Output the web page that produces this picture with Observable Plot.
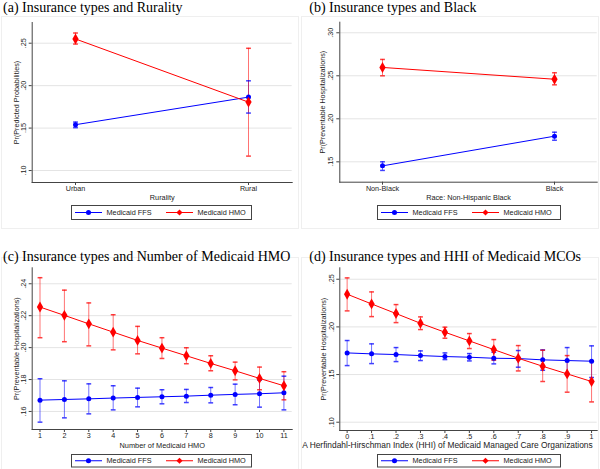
<!DOCTYPE html>
<html>
<head>
<meta charset="utf-8">
<script src="https://cdn.jsdelivr.net/npm/d3@7"></script>
<script src="https://cdn.jsdelivr.net/npm/@observablehq/plot@0.6"></script>
<style>
  html, body { margin: 0; padding: 0; background: #fff; }
  #page { position: relative; width: 600px; height: 469px; overflow: hidden; background: #fff; }
  .title { position: absolute; font-family: "Liberation Serif", "Times New Roman", serif; font-size: 14px; line-height: 16px; white-space: nowrap; color: #000; z-index: 2; }
  .region { position: absolute; border: 1px solid #efefef; box-sizing: border-box; }
  .plotbox { position: absolute; z-index: 1; }
  .legend { position: absolute; z-index: 2; }
</style>
</head>
<body>
<div id="page"></div>
<script>
// ---------- Series ----------
const seriesNames = ["Medicaid FFS", "Medicaid HMO"];
const seriesColors = ["#0000ff", "#ff0000"];
const seriesSymbols = ["circle", "diamond"];

// ---------- (a) Rurality ----------
const ruralityTitle = "(a) Insurance types and Rurality";
const ruralityCats = ["Urban", "Rural"];
const ruralityFFS = [0.154, 0.1865];
const ruralityFFSLo = [0.1505, 0.1677];
const ruralityFFSHi = [0.1571, 0.2057];
const ruralityHMO = [0.255, 0.1806];
const ruralityHMOLo = [0.249, 0.117];
const ruralityHMOHi = [0.262, 0.244];
const ruralityYTicks = [0.10, 0.15, 0.20, 0.25];
const ruralityYTickLabels = [".10", ".15", ".20", ".25"];
const ruralityXLabel = "Rurality";
const ruralityYLabel = "Pr(Predicted Probabilities)";

// ---------- (b) Black ----------
const raceTitle = "(b) Insurance types and Black";
const raceCats = ["Non-Black", "Black"];
const raceFFS = [0.1453, 0.1798];
const raceFFSLo = [0.140, 0.1751];
const raceFFSHi = [0.150, 0.1844];
const raceHMO = [0.2597, 0.246];
const raceHMOLo = [0.250, 0.2395];
const raceHMOHi = [0.269, 0.2535];
const raceYTicks = [0.15, 0.20, 0.25, 0.30];
const raceYTickLabels = [".15", ".20", ".25", ".30"];
const raceXLabel = "Race: Non-Hispanic Black";
const raceYLabel = "Pr(Preventable Hospitalizations)";

// ---------- (c) Number of Medicaid HMO ----------
const numTitle = "(c) Insurance types and Number of Medicaid HMO";
const numHMO = [1, 2, 3, 4, 5, 6, 7, 8, 9, 10, 11];
const numXTickLabels = ["1", "2", "3", "4", "5", "6", "7", "8", "9", "10", "11"];
const numFFS = [0.1671, 0.1675, 0.1679, 0.1684, 0.1688, 0.1692, 0.1696, 0.1702, 0.1707, 0.1711, 0.1717];
const numFFSHi = [0.1805, 0.1792, 0.1773, 0.1761, 0.1746, 0.1736, 0.1738, 0.1750, 0.1771, 0.1796, 0.1821];
const numFFSLo = [0.1533, 0.1560, 0.1585, 0.1610, 0.1629, 0.1648, 0.1656, 0.1654, 0.1642, 0.1627, 0.1610];
const numHMOv = [0.2254, 0.2202, 0.2149, 0.2097, 0.2045, 0.1997, 0.1949, 0.1901, 0.1855, 0.1807, 0.1761];
const numHMOHi = [0.2438, 0.2360, 0.2280, 0.2206, 0.2133, 0.2062, 0.1999, 0.1949, 0.1909, 0.1878, 0.1849];
const numHMOLo = [0.2062, 0.2037, 0.2011, 0.1986, 0.1961, 0.1932, 0.1899, 0.1855, 0.1798, 0.1736, 0.1673];
const numYTicks = [0.16, 0.18, 0.20, 0.22, 0.24];
const numYTickLabels = [".16", ".18", ".20", ".22", ".24"];
const numXLabel = "Number of Medicaid HMO";
const numYLabel = "Pr(Preventable Hospitalizations)";

// ---------- (d) HHI ----------
const hhiTitle = "(d) Insurance types and HHI of Medicaid MCOs";
const hhiVals = [0, 0.1, 0.2, 0.3, 0.4, 0.5, 0.6, 0.7, 0.8, 0.9, 1];
const hhiXTickLabels = ["0", ".1", ".2", ".3", ".4", ".5", ".6", ".7", ".8", ".9", "1"];
const hhiFFS = [0.1727, 0.1717, 0.1710, 0.1699, 0.1689, 0.1682, 0.1671, 0.1668, 0.1654, 0.1647, 0.1640];
const hhiFFSHi = [0.1857, 0.1822, 0.1783, 0.1748, 0.1727, 0.1720, 0.1734, 0.1752, 0.1759, 0.1783, 0.1801];
const hhiFFSLo = [0.1594, 0.1615, 0.1636, 0.1647, 0.1657, 0.1643, 0.1612, 0.1577, 0.1545, 0.1510, 0.1469];
const hhiHMO = [0.2343, 0.2241, 0.2140, 0.2038, 0.1944, 0.1853, 0.1762, 0.1671, 0.1587, 0.1507, 0.1427];
const hhiHMOHi = [0.2514, 0.2367, 0.2234, 0.2105, 0.1997, 0.1930, 0.1867, 0.1804, 0.1755, 0.1699, 0.1645];
const hhiHMOLo = [0.2168, 0.2108, 0.2045, 0.1972, 0.1881, 0.1773, 0.1650, 0.1538, 0.1427, 0.1315, 0.1213];
const hhiYTicks = [0.10, 0.15, 0.20, 0.25];
const hhiYTickLabels = [".10", ".15", ".20", ".25"];
const hhiXLabel = "A Herfindahl-Hirschman Index (HHI) of Medicaid Managed Care Organizations";
const hhiYLabel = "Pr(Preventable Hospitalizations)";

// ---------- Panel configs (built from the arrays above) ----------
const panels = [
  {
    title: ruralityTitle, x: ruralityCats, ffs: ruralityFFS, ffsLo: ruralityFFSLo, ffsHi: ruralityFFSHi,
    hmo: ruralityHMO, hmoLo: ruralityHMOLo, hmoHi: ruralityHMOHi,
    xTicks: ruralityCats, xTickLabels: ruralityCats, yTicks: ruralityYTicks, yTickLabels: ruralityYTickLabels,
    xLabel: ruralityXLabel, yLabel: ruralityYLabel,
    xScale: {type: "point", domain: ruralityCats, padding: 0.25},
    yDomain: [0.0859, 0.2744],
    L: {left: 0, top: 14, h: 192, mt: 8, mb: 24, ml: 31.7, mr: 8.3, typad: 3.6, ytdx: -16,
        xtAnchor: "bottom", xtdx: 0, xtdy: 15, xtText: "middle", xtFs: 7.3,
        titleLeft: 3, titleTop: 0,
        legend: {left: 70.7, top: 205, w: 181, h: 15},
        region: {left: 1, top: 16, w: 297.5, h: 213}}
  },
  {
    title: raceTitle, x: raceCats, ffs: raceFFS, ffsLo: raceFFSLo, ffsHi: raceFFSHi,
    hmo: raceHMO, hmoLo: raceHMOLo, hmoHi: raceHMOHi,
    xTicks: raceCats, xTickLabels: raceCats, yTicks: raceYTicks, yTickLabels: raceYTickLabels,
    xLabel: raceXLabel, yLabel: raceYLabel,
    xScale: {type: "point", domain: raceCats, padding: 0.245},
    yDomain: [0.1263, 0.3123],
    L: {left: 300, top: 14, h: 192, mt: 7.7, mb: 24.3, ml: 39.3, mr: 3.3, typad: 3.6, ytdx: -17,
        xtAnchor: "bottom", xtdx: 0, xtdy: 15.3, xtText: "middle", xtFs: 7.3,
        titleLeft: 309.3, titleTop: 0,
        legend: {left: 377.3, top: 205, w: 184, h: 15},
        region: {left: 301, top: 16, w: 298, h: 213}}
  },
  {
    title: numTitle, x: numHMO, ffs: numFFS, ffsLo: numFFSLo, ffsHi: numFFSHi,
    hmo: numHMOv, hmoLo: numHMOLo, hmoHi: numHMOHi,
    xTicks: numHMO, xTickLabels: numXTickLabels, yTicks: numYTicks, yTickLabels: numYTickLabels,
    xLabel: numXLabel, yLabel: numYLabel,
    xScale: {type: "linear", domain: [0.68, 11.34]},
    yDomain: [0.1487, 0.2500],
    L: {left: 0, top: 262, h: 190, mt: 5.3, mb: 23, ml: 31.7, mr: 8.3, typad: 3.6, ytdx: -16,
        xtAnchor: "bottom", xtdx: 0, xtdy: 16, xtText: "middle", xtFs: 7.4,
        titleLeft: 3, titleTop: 249,
        legend: {left: 70.7, top: 454, w: 181, h: 13.5},
        region: {left: 1, top: 257, w: 297.5, h: 214}}
  },
  {
    title: hhiTitle, x: hhiVals, ffs: hhiFFS, ffsLo: hhiFFSLo, ffsHi: hhiFFSHi,
    hmo: hhiHMO, hmoLo: hhiHMOLo, hmoHi: hhiHMOHi,
    xTicks: hhiVals, xTickLabels: hhiXTickLabels, yTicks: hhiYTicks, yTickLabels: hhiYTickLabels,
    xLabel: hhiXLabel, yLabel: hhiYLabel,
    xScale: {type: "linear", domain: [-0.03, 1.023]},
    yDomain: [0.0913, 0.262],
    L: {left: 300, top: 262, h: 190, mt: 5.3, mb: 22, ml: 39.3, mr: 3.3, typad: 2.9, ytdx: -16.6,
        xtAnchor: "bottom-left", xtdx: -37.6, xtdy: 15, xtText: "start", xtFs: 8.4,
        titleLeft: 309.3, titleTop: 249,
        legend: {left: 377.3, top: 454, w: 184, h: 13.5},
        region: {left: 301, top: 257, w: 298, h: 214}}
  }
];

const page = document.getElementById("page");
const FONT = "'Liberation Sans', Arial, Helvetica, sans-serif";
const FS = 7.2;
const capSymbol = {
  draw(context, size) {
    const r = Math.sqrt(size / Math.PI);
    context.moveTo(-r, 0);
    context.lineTo(r, 0);
  }
};

function drawLegend(L) {
  const lg = L.legend;
  const div = document.createElement("div");
  div.className = "legend";
  div.style.left = lg.left + "px";
  div.style.top = lg.top + "px";
  const svg = d3.create("svg").attr("width", lg.w).attr("height", lg.h)
    .style("display", "block").style("font-family", FONT).style("font-size", "7.3px");
  svg.append("rect").attr("x", 0.5).attr("y", 0.5).attr("width", lg.w - 1).attr("height", lg.h - 1)
    .attr("fill", "#fff").attr("stroke", "#444");
  const cy = lg.h / 2;
  const items = [
    {x0: 4, x1: 31, m: 17.5, t: 35.5, size: 20},
    {x0: 95, x1: 122, m: 108.5, t: 126.5, size: 24}
  ];
  seriesNames.forEach((name, i) => {
    const it = items[i];
    svg.append("line").attr("x1", it.x0).attr("x2", it.x1).attr("y1", cy).attr("y2", cy)
      .attr("stroke", seriesColors[i]).attr("stroke-width", 1);
    const sym = i === 0 ? d3.symbolCircle : d3.symbolDiamond2;
    svg.append("path").attr("d", d3.symbol(sym, it.size)())
      .attr("transform", `translate(${it.m},${cy})`).attr("fill", seriesColors[i]);
    svg.append("text").attr("x", it.t).attr("y", cy).attr("dy", "0.35em")
      .attr("fill", "#222").text(name);
  });
  div.appendChild(svg.node());
  page.appendChild(div);
}

panels.forEach(p => {
  const L = p.L;
  const reg = document.createElement("div");
  reg.className = "region";
  Object.assign(reg.style, {left: L.region.left + "px", top: L.region.top + "px", width: L.region.w + "px", height: L.region.h + "px"});
  page.appendChild(reg);

  const rows = [];
  p.x.forEach((xv, i) => {
    rows.push({series: seriesNames[0], x: xv, y: p.ffs[i], lo: p.ffsLo[i], hi: p.ffsHi[i]});
    rows.push({series: seriesNames[1], x: xv, y: p.hmo[i], lo: p.hmoLo[i], hi: p.hmoHi[i]});
  });
  const yFmt = new Map(p.yTicks.map((t, i) => [t, p.yTickLabels[i]]));
  const xFmt = new Map(p.xTicks.map((t, i) => [t, p.xTickLabels[i]]));

  const chart = Plot.plot({
    width: 300,
    height: L.h,
    marginTop: L.mt, marginBottom: L.mb, marginLeft: L.ml, marginRight: L.mr,
    style: {fontFamily: FONT, fontSize: FS + "px", background: "transparent", overflow: "visible"},
    x: p.xScale,
    y: {domain: p.yDomain},
    color: {domain: seriesNames, range: seriesColors},
    symbol: {domain: seriesNames, range: seriesSymbols},
    marks: [
      Plot.gridY(p.yTicks, {stroke: "#e4e4e4", strokeOpacity: 1, strokeWidth: 1}),
      Plot.axisY(p.yTicks, {tickRotate: -90, tickSize: 3, tickPadding: L.typad, tickFormat: d => yFmt.get(d), label: null, fill: "#222", stroke: "#444"}),
      Plot.axisX(p.xTicks, {tickSize: 3, tickPadding: 0.5, tickFormat: d => xFmt.get(d), label: null, fill: "#222", stroke: "#444"}),
      Plot.frame({anchor: "left", stroke: "#444"}),
      Plot.frame({anchor: "bottom", stroke: "#444"}),
      Plot.text([p.yLabel], {frameAnchor: "left", dx: L.ytdx, rotate: -90, textAnchor: "middle", lineAnchor: "middle", text: d => d, fill: "#222"}),
      Plot.text([p.xLabel], {frameAnchor: L.xtAnchor, dx: L.xtdx, dy: L.xtdy, textAnchor: L.xtText, lineAnchor: "middle", fontSize: L.xtFs, text: d => d, fill: "#222"}),
      Plot.ruleX(rows, {x: "x", y1: "lo", y2: "hi", stroke: "series", strokeOpacity: 0.55}),
      Plot.dot(rows, {x: "x", y: "lo", symbol: capSymbol, r: 2.4, stroke: "series", strokeOpacity: 0.75, fill: "none"}),
      Plot.dot(rows, {x: "x", y: "hi", symbol: capSymbol, r: 2.4, stroke: "series", strokeOpacity: 0.75, fill: "none"}),
      Plot.line(rows, {x: "x", y: "y", z: "series", stroke: "series", strokeWidth: 1}),
      Plot.dot(rows, {filter: d => d.series === seriesNames[0], x: "x", y: "y", fill: "series", symbol: "series", r: 2.5, stroke: "none"}),
      Plot.dot(rows, {filter: d => d.series === seriesNames[1], x: "x", y: "y", fill: "series", symbol: "series", r: 3.3, stroke: "none"})
    ]
  });
  const box = document.createElement("div");
  box.className = "plotbox";
  box.style.left = L.left + "px";
  box.style.top = L.top + "px";
  box.appendChild(chart);
  page.appendChild(box);

  const t = document.createElement("div");
  t.className = "title";
  t.style.left = L.titleLeft + "px";
  t.style.top = L.titleTop + "px";
  t.textContent = p.title;
  page.appendChild(t);

  drawLegend(L);
});
</script>
</body>
</html>
